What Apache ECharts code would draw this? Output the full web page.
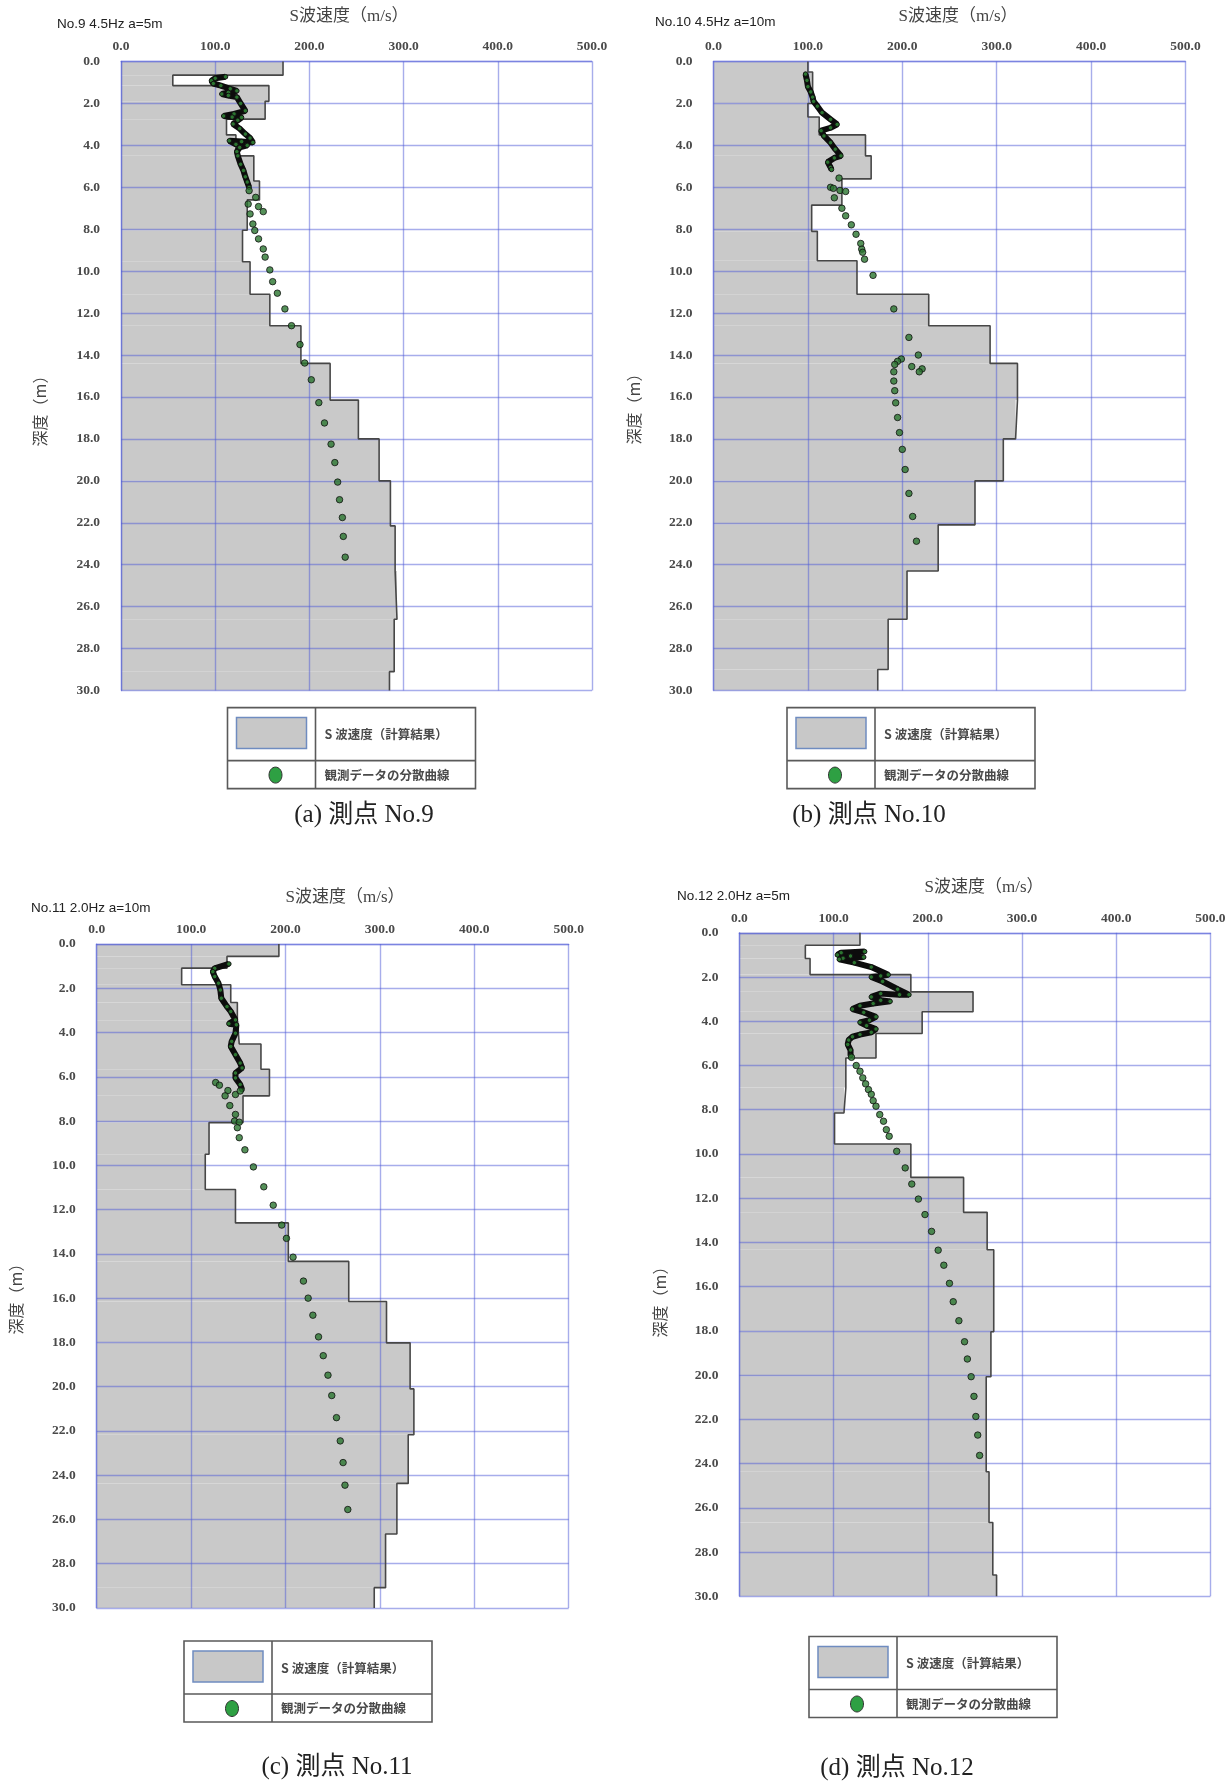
<!DOCTYPE html>
<html>
<head>
<meta charset="utf-8">
<title>S波速度</title>
<script src="https://cdn.jsdelivr.net/npm/echarts@6/dist/echarts.min.js"></script>
<style>
    html, body { margin: 0; padding: 0; background: #fff; }
    #chart { width: 1232px; height: 1783px; }
</style>
</head>
<body>
<div id="chart"></div>
<script>
// axis ranges (Vs m/s along the top, depth m downwards)
const velocityTicks = [0, 100, 200, 300, 400, 500];
const depthTicks = [0, 2, 4, 6, 8, 10, 12, 14, 16, 18, 20, 22, 24, 26, 28, 30];

const stationNames = ['No.9 4.5Hz a=5m', 'No.10 4.5Hz a=10m', 'No.11 2.0Hz a=10m', 'No.12 2.0Hz a=5m'];
const captions = ['(a) 測点 No.9', '(b) 測点 No.10', '(c) 測点 No.11', '(d) 測点 No.12'];
const xAxisTitle = 'S波速度（m/s）';
const yAxisTitle = '深度（m）';
const legendNames = ['S 波速度（計算結果）', '観測データの分散曲線'];

// calculated Vs layers: [top depth, bottom depth, Vs]
const layersNo9 = [
    [0, 0.65, 172], [0.65, 1.15, 55], [1.15, 1.9, 157], [1.9, 2.75, 153], [2.75, 3.5, 112],
    [3.5, 4.5, 122], [4.5, 5.7, 141], [5.7, 6.6, 147], [6.6, 8.05, 134], [8.05, 9.55, 129],
    [9.55, 11.1, 137], [11.1, 12.6, 158], [12.6, 14.4, 191], [14.4, 16.15, 222], [16.15, 18.0, 252],
    [18.0, 20.0, 274], [20.0, 22.15, 286], [22.15, 24.3, 291], [24.3, 26.6, 293], [26.6, 29.1, 290],
    [29.1, 30, 285]
];
const layersNo10 = [
    [0, 0.5, 100], [0.5, 2.0, 105], [2.0, 2.65, 100], [2.65, 3.5, 112], [3.5, 4.5, 161],
    [4.5, 5.6, 167], [5.6, 6.85, 136], [6.85, 8.1, 104], [8.1, 9.5, 110], [9.5, 11.1, 152],
    [11.1, 12.6, 228], [12.6, 14.4, 293], [14.4, 16.15, 322], [16.15, 18.0, 320], [18.0, 20.0, 307],
    [20.0, 22.1, 277], [22.1, 24.3, 238], [24.3, 26.6, 205], [26.6, 29.0, 185], [29.0, 30, 174]
];
const layersNo11 = [
    [0, 0.56, 193], [0.56, 1.09, 138], [1.09, 1.84, 90], [1.84, 2.64, 142], [2.64, 3.47, 149],
    [3.47, 4.52, 151], [4.52, 5.66, 174], [5.66, 6.86, 183], [6.86, 8.07, 155], [8.07, 9.5, 119],
    [9.5, 11.09, 115], [11.09, 12.6, 147], [12.6, 14.34, 203], [14.34, 16.15, 267], [16.15, 18.02, 307],
    [18.02, 20.1, 332], [20.1, 22.17, 336], [22.17, 24.37, 330], [24.37, 26.66, 318], [26.66, 29.08, 306],
    [29.08, 30, 294]
];
const layersNo12 = [
    [0, 0.56, 128], [0.56, 1.16, 70], [1.16, 1.89, 75], [1.89, 2.67, 182], [2.67, 3.57, 248],
    [3.57, 4.55, 194], [4.55, 5.66, 145], [5.66, 7.0, 113], [7.0, 8.15, 111], [8.15, 9.55, 101],
    [9.55, 11.06, 182], [11.06, 12.64, 238], [12.64, 14.33, 263], [14.33, 18.04, 270], [18.04, 20.07, 267],
    [20.07, 24.37, 262], [24.37, 26.66, 265], [26.66, 29.04, 269], [29.04, 30, 273]
];

// observed dispersion curve: [Vs, depth]; the dense part shallow, sparse dots below
const denseNo9 = [
    [111, 0.73], [100, 0.8], [96, 0.92], [98, 1.05], [106, 1.15], [116, 1.3], [123, 1.4], [114, 1.48],
    [107, 1.55], [114, 1.62], [123, 1.7], [127, 2.0], [132, 2.35], [120, 2.5], [109, 2.6], [118, 2.65],
    [128, 2.67], [124, 2.8], [119, 2.98], [126, 3.2], [132, 3.46], [137, 3.65], [140, 3.86], [128, 3.82],
    [115, 3.78], [122, 3.95], [134, 4.0], [126, 4.1], [123, 4.3], [124, 4.5], [127, 4.9], [130, 5.2],
    [132, 5.5], [134, 5.75], [136, 6.0]
];
const sparseNo9 = [
    [136, 6.16], [143, 6.48], [146, 6.92], [151, 7.16], [135, 6.8], [137, 7.27], [140, 7.75], [142, 8.06],
    [146, 8.46], [151, 8.94], [153, 9.33], [158, 9.94], [161, 10.5], [166, 11.05], [174, 11.8], [181, 12.6],
    [190, 13.5], [195, 14.38], [202, 15.18], [210, 16.27], [216, 17.24], [223, 18.25], [227, 19.13],
    [230, 20.06], [232, 20.9], [235, 21.75], [236, 22.65], [238, 23.64]
];
const denseNo10 = [
    [97.5, 0.6], [99, 0.9], [100, 1.2], [103, 1.45], [105, 1.7], [106, 1.9], [110, 2.13], [115, 2.44],
    [124, 2.76], [131, 3.0], [124, 3.16], [114, 3.3], [117, 3.55], [124, 3.87], [129, 4.18], [135, 4.5],
    [128, 4.6], [121, 4.8], [124, 5.05], [125, 5.15]
];
const sparseNo10 = [
    [133, 5.56], [124, 6.0], [127, 6.05], [134, 6.15], [140, 6.2], [128, 6.5], [136, 7.0], [140, 7.36],
    [146, 7.79], [151, 8.24], [156, 8.68], [157, 8.95], [158, 9.1], [160, 9.43], [169, 10.2], [191, 11.8],
    [207, 13.16], [217, 14.0], [199, 14.19], [195, 14.3], [192, 14.45], [210, 14.55], [221, 14.66],
    [218, 14.8], [191, 14.8], [191, 15.24], [192, 15.7], [193, 16.28], [195, 16.98], [197, 17.7],
    [200, 18.5], [203, 19.46], [207, 20.6], [211, 21.7], [215, 22.88]
];
const denseNo11 = [
    [140, 0.9], [125, 1.1], [123, 1.25], [125, 1.47], [129, 1.77], [131, 2.08], [132, 2.45], [138, 2.83],
    [142, 3.05], [147, 3.43], [140, 3.6], [148, 3.65], [147, 4.03], [143, 4.4], [142, 4.63], [147, 5.0],
    [152, 5.38], [154, 5.6], [147, 5.83], [147, 6.05], [152, 6.35], [154, 6.58]
];
const sparseNo11 = [
    [126, 6.26], [130, 6.38], [139, 6.62], [136, 6.86], [147, 6.8], [152, 6.64], [141, 7.3], [147, 7.7],
    [146, 8.0], [151, 8.05], [149, 8.3], [151, 8.75], [157, 9.3], [166, 10.07], [177, 10.97], [187, 11.8],
    [196, 12.7], [201, 13.3], [208, 14.15], [219, 15.23], [224, 16.0], [229, 16.77], [235, 17.75],
    [240, 18.6], [245, 19.48], [249, 20.4], [254, 21.4], [258, 22.45], [261, 23.43], [263, 24.45],
    [266, 25.55]
];
const denseNo12 = [
    [133, 0.85], [108, 0.9], [104, 1.0], [118, 1.05], [132, 1.1], [110, 1.15], [106, 1.2], [122, 1.35],
    [140, 1.55], [158, 1.9], [150, 1.95], [140, 2.0], [152, 2.2], [168, 2.55], [180, 2.8], [170, 2.8],
    [150, 2.75], [140, 2.9], [150, 3.05], [160, 3.1], [142, 3.2], [128, 3.3], [120, 3.45], [132, 3.6],
    [145, 3.8], [138, 3.95], [128, 4.05], [135, 4.2], [145, 4.35], [140, 4.5], [128, 4.6], [120, 4.7],
    [116, 4.85], [115, 5.05], [118, 5.3], [118, 5.55]
];
const sparseNo12 = [
    [119, 5.63], [124, 6.0], [128, 6.26], [131, 6.56], [134, 6.83], [137, 7.09], [140, 7.3], [142, 7.59],
    [145, 7.84], [149, 8.22], [153, 8.52], [156, 8.9], [159, 9.2], [167, 9.88], [176, 10.63], [183, 11.36],
    [190, 12.04], [197, 12.74], [204, 13.5], [211, 14.35], [217, 15.03], [223, 15.85], [227, 16.68],
    [233, 17.54], [239, 18.49], [242, 19.27], [246, 20.07], [249, 20.96], [251, 21.87], [253, 22.71],
    [255, 23.63]
];

(function(){

    const GRID_COLOR = 'rgba(80,92,215,0.5)';
    const SERIF = '"Liberation Serif", "Noto Sans CJK JP", serif';
    const CJK = '"Noto Sans CJK JP", "Liberation Serif", sans-serif';

    // where each panel sits on the page
    let _panels = [
        { layers: layersNo9, dense: denseNo9, sparse: sparseNo9,
          grid: { left: 121, top: 61.5, width: 471, height: 629 },
          station: [57, 24], title: [349, 17], yname: [40, 407], legend: [227.5, 707.6], caption: [364, 815] },
        { layers: layersNo10, dense: denseNo10, sparse: sparseNo10,
          grid: { left: 713.5, top: 61.5, width: 472, height: 629 },
          station: [655, 22], title: [958, 17], yname: [634, 405], legend: [787, 707.6], caption: [869, 815] },
        { layers: layersNo11, dense: denseNo11, sparse: sparseNo11,
          grid: { left: 96.7, top: 944, width: 472, height: 664 },
          station: [31, 908], title: [345, 898], yname: [16, 1295], legend: [184, 1641], caption: [337, 1767] },
        { layers: layersNo12, dense: denseNo12, sparse: sparseNo12,
          grid: { left: 739.4, top: 932.8, width: 471, height: 663.5 },
          station: [677, 896], title: [984, 888], yname: [660, 1298], legend: [809, 1636.5], caption: [897, 1768] }
    ];

    let _stepPoints = function(layers){
        let pts = [];
        layers.forEach((l) => {
            pts.push([l[2], l[0]]);
            pts.push([l[2], l[1]]);
        });
        return pts;
    };

    let _renderLayer = function(params, api){
        let p0 = api.coord([0, api.value(1)]);
        let p1 = api.coord([api.value(0), api.value(2)]);
        return {
            type: 'rect',
            shape: { x: p0[0], y: p0[1], width: p1[0] - p0[0], height: p1[1] - p0[1] },
            style: { fill: '#c9c9c9' }
        };
    };

    let _dotStyle = {
        color: '#2b7530',
        borderColor: '#111',
        borderWidth: 1
    };

    let _text = function(x, y, style, extra){
        return Object.assign({
            type: 'text',
            x: x,
            y: y,
            silent: true,
            style: Object.assign({ fill: '#333', align: 'center', verticalAlign: 'middle' }, style)
        }, extra || {});
    };

    let _legendGraphics = function(x, y){
        let w = 248, h = 81;
        return [
            { type: 'rect', silent: true, shape: { x: x, y: y, width: w, height: h },
              style: { fill: '#fff', stroke: '#5a5a5a', lineWidth: 1.6 } },
            { type: 'line', silent: true, shape: { x1: x + 88, y1: y, x2: x + 88, y2: y + h },
              style: { stroke: '#5a5a5a', lineWidth: 1.6 } },
            { type: 'line', silent: true, shape: { x1: x, y1: y + 53, x2: x + w, y2: y + 53 },
              style: { stroke: '#5a5a5a', lineWidth: 1.6 } },
            { type: 'rect', silent: true, shape: { x: x + 9, y: y + 10, width: 70, height: 31 },
              style: { fill: '#c8c8c8', stroke: '#6f8cc0', lineWidth: 1.5 } },
            { type: 'ellipse', silent: true, shape: { cx: x + 48, cy: y + 67.5, rx: 6.5, ry: 8 },
              style: { fill: '#2ea043', stroke: '#333', lineWidth: 1 } },
            _text(x + 97, y + 27, { text: legendNames[0], fill: '#4a4a4a', fontFamily: CJK, fontSize: 12.5,
                                    fontWeight: 'bold', align: 'left' }),
            _text(x + 97, y + 67.5, { text: legendNames[1], fill: '#4a4a4a', fontFamily: CJK, fontSize: 12.5,
                                      fontWeight: 'bold', align: 'left' })
        ];
    };

    let _makeChartOptions = function(){
        let grids = [], xAxes = [], yAxes = [], series = [], graphics = [];

        _panels.forEach((p, i) => {
            grids.push(p.grid);

            xAxes.push({
                gridIndex: i,
                type: 'value',
                position: 'top',
                min: velocityTicks[0],
                max: velocityTicks[velocityTicks.length - 1],
                interval: velocityTicks[1] - velocityTicks[0],
                z: 3,
                axisLine: { show: true, lineStyle: { color: GRID_COLOR, width: 1.4 } },
                axisTick: { show: false },
                axisLabel: {
                    formatter: (v) => v.toFixed(1),
                    color: '#4a4a4a', fontFamily: SERIF, fontSize: 13.5, fontWeight: 'bold', margin: 8
                },
                splitLine: { show: true, showMinLine: true, showMaxLine: true,
                             lineStyle: { color: GRID_COLOR, width: 1.4 } }
            });

            yAxes.push({
                gridIndex: i,
                type: 'value',
                inverse: true,
                min: depthTicks[0],
                max: depthTicks[depthTicks.length - 1],
                interval: depthTicks[1] - depthTicks[0],
                z: 3,
                axisLine: { show: true, lineStyle: { color: GRID_COLOR, width: 1.4 } },
                axisTick: { show: false },
                axisLabel: {
                    formatter: (v) => v.toFixed(1),
                    color: '#4a4a4a', fontFamily: SERIF, fontSize: 13.5, fontWeight: 'bold', margin: 21
                },
                splitLine: { show: true, showMinLine: true, showMaxLine: true,
                             lineStyle: { color: GRID_COLOR, width: 1.4 } }
            });

            // calculated Vs profile: gray fill + outline
            series.push({
                type: 'custom',
                xAxisIndex: i, yAxisIndex: i,
                z: 1, silent: true,
                renderItem: _renderLayer,
                encode: { x: 0, y: [1, 2] },
                data: p.layers.map((l) => [l[2], l[0], l[1]])
            });
            series.push({
                type: 'line',
                xAxisIndex: i, yAxisIndex: i,
                z: 4, silent: true,
                symbol: 'none',
                lineStyle: { color: '#474747', width: 1.6 },
                data: _stepPoints(p.layers)
            });

            // observed dispersion curve
            series.push({
                type: 'line',
                xAxisIndex: i, yAxisIndex: i,
                z: 5, silent: true,
                symbol: 'circle', symbolSize: 4.5,
                lineStyle: { color: '#0c0c0c', width: 6 },
                itemStyle: _dotStyle,
                data: p.dense
            });
            series.push({
                type: 'scatter',
                xAxisIndex: i, yAxisIndex: i,
                z: 6, silent: true,
                symbolSize: 6.5,
                itemStyle: _dotStyle,
                data: p.sparse
            });

            graphics.push(_text(p.station[0], p.station[1],
                { text: stationNames[i], fill: '#222', fontFamily: '"Liberation Sans", sans-serif',
                  fontSize: 13.5, align: 'left' }));
            graphics.push(_text(p.title[0], p.title[1],
                { text: xAxisTitle, fill: '#444', fontFamily: SERIF, fontSize: 17 }));
            graphics.push(_text(p.yname[0], p.yname[1],
                { text: yAxisTitle, fill: '#444', fontFamily: CJK, fontSize: 16 },
                { rotation: Math.PI / 2 }));
            graphics.push(_text(p.caption[0], p.caption[1],
                { text: captions[i], fill: '#222', fontFamily: SERIF, fontSize: 25 }));
            graphics = graphics.concat(_legendGraphics(p.legend[0], p.legend[1]));
        });

        return {
            animation: false,
            backgroundColor: '#fff',
            grid: grids,
            xAxis: xAxes,
            yAxis: yAxes,
            series: series,
            graphic: { elements: graphics }
        };
    };

    let chart = echarts.init(document.getElementById('chart'), null, { renderer: 'canvas' });
    chart.setOption(_makeChartOptions());

    window.addEventListener('resize', function(){
        chart.resize();
    });
})();
</script>
</body>
</html>
